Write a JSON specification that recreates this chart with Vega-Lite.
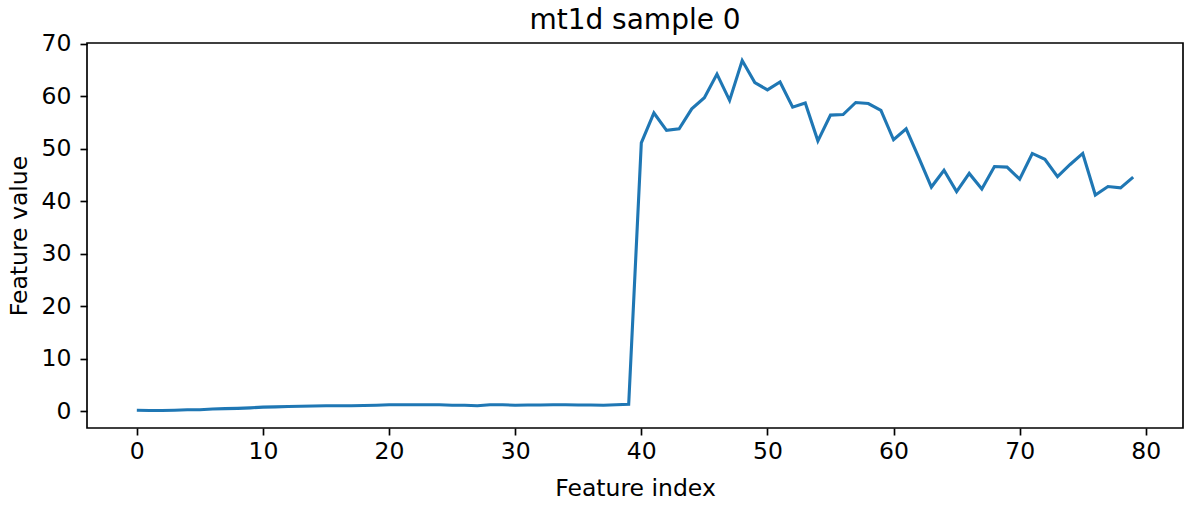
{
  "$schema": "https://vega.github.io/schema/vega-lite/v6.json",
  "autosize": {"type": "none"},
  "width": 1096,
  "height": 385,
  "padding": {"left": 87, "top": 43, "right": 7, "bottom": 82},
  "background": "white",
  "title": {
    "text": "mt1d sample 0",
    "font": "DejaVu Sans",
    "fontSize": 28,
    "fontWeight": "normal",
    "color": "black",
    "offset": -3
  },
  "data": {
    "values": [
      {"index": 0, "value": 0.2}, {"index": 1, "value": 0.15}, {"index": 2, "value": 0.15},
      {"index": 3, "value": 0.2}, {"index": 4, "value": 0.3}, {"index": 5, "value": 0.3},
      {"index": 6, "value": 0.45}, {"index": 7, "value": 0.5}, {"index": 8, "value": 0.55},
      {"index": 9, "value": 0.65}, {"index": 10, "value": 0.8}, {"index": 11, "value": 0.85},
      {"index": 12, "value": 0.9}, {"index": 13, "value": 0.95}, {"index": 14, "value": 1.0},
      {"index": 15, "value": 1.05}, {"index": 16, "value": 1.05}, {"index": 17, "value": 1.05},
      {"index": 18, "value": 1.1}, {"index": 19, "value": 1.15}, {"index": 20, "value": 1.25},
      {"index": 21, "value": 1.25}, {"index": 22, "value": 1.25}, {"index": 23, "value": 1.25},
      {"index": 24, "value": 1.25}, {"index": 25, "value": 1.15}, {"index": 26, "value": 1.15},
      {"index": 27, "value": 1.05}, {"index": 28, "value": 1.25}, {"index": 29, "value": 1.25},
      {"index": 30, "value": 1.15}, {"index": 31, "value": 1.2}, {"index": 32, "value": 1.2},
      {"index": 33, "value": 1.25}, {"index": 34, "value": 1.25}, {"index": 35, "value": 1.2},
      {"index": 36, "value": 1.2}, {"index": 37, "value": 1.15}, {"index": 38, "value": 1.25},
      {"index": 39, "value": 1.35}, {"index": 40, "value": 51.1}, {"index": 41, "value": 56.8},
      {"index": 42, "value": 53.5}, {"index": 43, "value": 53.8}, {"index": 44, "value": 57.6},
      {"index": 45, "value": 59.7}, {"index": 46, "value": 64.2}, {"index": 47, "value": 59.2},
      {"index": 48, "value": 66.8}, {"index": 49, "value": 62.6}, {"index": 50, "value": 61.2},
      {"index": 51, "value": 62.7}, {"index": 52, "value": 57.9}, {"index": 53, "value": 58.7},
      {"index": 54, "value": 51.5}, {"index": 55, "value": 56.4}, {"index": 56, "value": 56.5},
      {"index": 57, "value": 58.8}, {"index": 58, "value": 58.6}, {"index": 59, "value": 57.3},
      {"index": 60, "value": 51.7}, {"index": 61, "value": 53.8}, {"index": 62, "value": 48.3},
      {"index": 63, "value": 42.7}, {"index": 64, "value": 45.9}, {"index": 65, "value": 41.85},
      {"index": 66, "value": 45.3}, {"index": 67, "value": 42.35}, {"index": 68, "value": 46.6},
      {"index": 69, "value": 46.5}, {"index": 70, "value": 44.2}, {"index": 71, "value": 49.1},
      {"index": 72, "value": 48.0}, {"index": 73, "value": 44.7}, {"index": 74, "value": 47.0},
      {"index": 75, "value": 49.1}, {"index": 76, "value": 41.2}, {"index": 77, "value": 42.8},
      {"index": 78, "value": 42.55}, {"index": 79, "value": 44.6}
    ]
  },
  "mark": {"type": "line", "color": "#1f77b4", "strokeWidth": 3.1, "clip": true},
  "encoding": {
    "x": {
      "field": "index",
      "type": "quantitative",
      "title": "Feature index",
      "scale": {"domain": [-3.95, 82.95], "nice": false, "zero": false},
      "axis": {"values": [0, 10, 20, 30, 40, 50, 60, 70, 80], "labelPadding": 4, "titlePadding": 14}
    },
    "y": {
      "field": "value",
      "type": "quantitative",
      "title": "Feature value",
      "scale": {"domain": [-3.18, 70.13], "nice": false, "zero": false},
      "axis": {"values": [0, 10, 20, 30, 40, 50, 60, 70], "labelPadding": 9, "titlePadding": 10}
    }
  },
  "config": {
    "view": {"stroke": "black", "strokeWidth": 1.67},
    "axis": {
      "domain": false,
      "grid": false,
      "ticks": true,
      "tickColor": "black",
      "tickSize": 7,
      "tickWidth": 1.67,
      "labelFont": "DejaVu Sans",
      "labelFontSize": 23.5,
      "labelColor": "black",
      "titleFont": "DejaVu Sans",
      "titleFontSize": 23.5,
      "titleFontWeight": "normal",
      "titleColor": "black"
    }
  }
}
